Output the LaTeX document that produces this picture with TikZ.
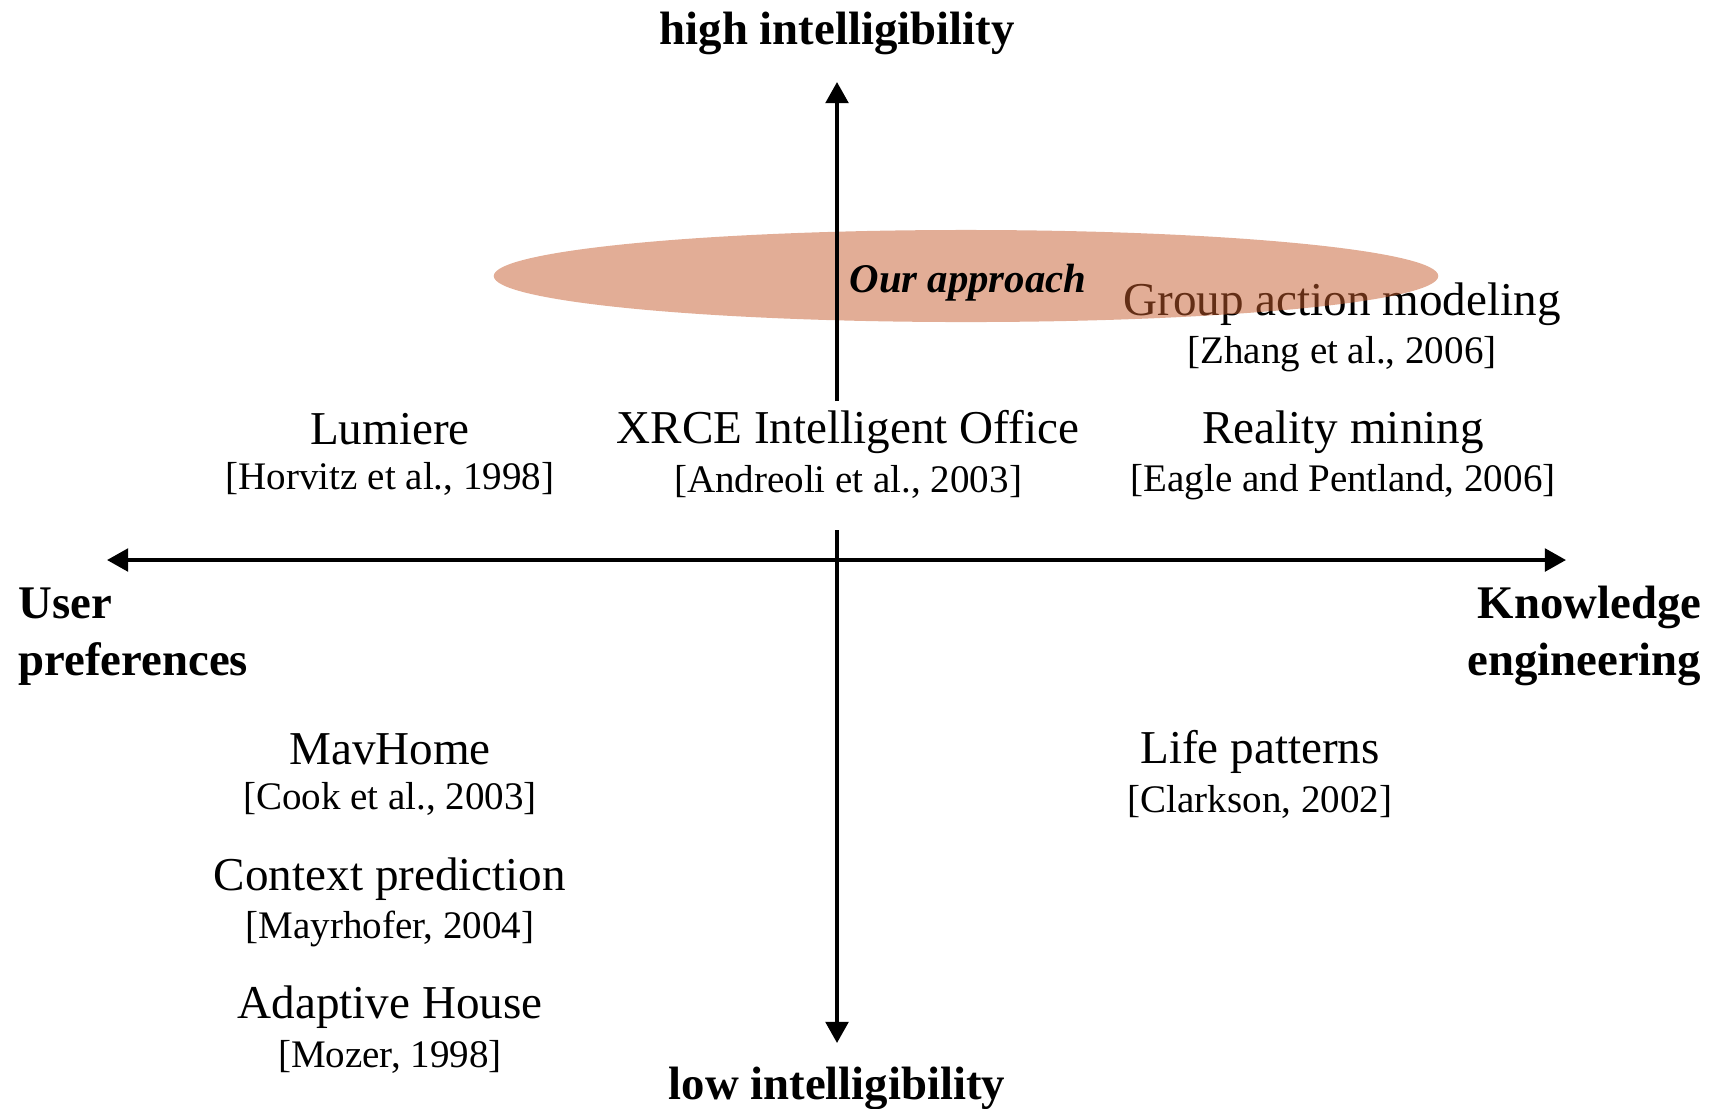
\documentclass[tikz,border=0pt]{standalone}
\usepackage{fontspec}
\setmainfont{Liberation Serif}
\usepackage{tikz}
\usetikzlibrary{arrows.meta,positioning,shapes.geometric}
\usepackage{xcolor}
\definecolor{qbrown}{RGB}{198,92,45}
\tikzstyle{axis} = [line width=1.1pt,->,>={Triangle[length=6pt,width=6.4pt]}]
\tikzstyle{work} = [font=\fontsize{13.4}{16}\selectfont, inner sep=0pt]
\tikzstyle{cite} = [font=\fontsize{11.1}{13}\selectfont, inner sep=0pt]
\tikzstyle{pole} = [font=\bfseries\fontsize{13.3}{16.2}\selectfont, inner sep=0pt]
\tikzstyle{hatchbox} = [ellipse, inner sep=0pt, fill=qbrown, fill opacity=0.5]

\begin{document}
\begin{tikzpicture}[x=0.01cm, y=-0.01cm]
\useasboundingbox (0,0) rectangle (1713,1108);

% Axis ends
\coordinate (vtop) at (837,82);
\coordinate (vmidA) at (837,401);
\coordinate (vmidB) at (837,530);
\coordinate (vbot) at (837,1043);
\coordinate (hleft) at (107,560);
\coordinate (hright) at (1566,560);

% Axis labels
\node[pole] (high) at (837,33) {high intelligibility};
\node[pole] (low) at (837,1088) {low intelligibility};
\node[pole, anchor=west, align=left] (user) at (18,637) {User\\preferences};
\node[pole, anchor=east, align=right] (know) at (1702,636) {Knowledge\\engineering};

% Upper quadrants
\node[work] (group) at (1342,304) {Group action modeling};
\node[cite, below of=group, node distance=0.5cm] (zhang) {[Zhang et al., 2006]};
\node[work] (lum) at (390,429) {Lumiere};
\node[cite, below of=lum, node distance=0.5cm] (horv) {[Horvitz et al., 1998]};
\node[work] (xrce) at (848,432) {XRCE Intelligent Office};
\node[cite, below of=xrce, node distance=0.5cm] (andr) {[Andreoli et al., 2003]};
\node[work] (real) at (1343,432) {Reality mining};
\node[cite, below of=real, node distance=0.5cm] (eagle) {[Eagle and Pentland, 2006]};

% Lower quadrants
\node[work] (mav) at (390,749) {MavHome};
\node[cite, below of=mav, node distance=0.5cm] (cook) {[Cook et al., 2003]};
\node[work] (ctx) at (390,879) {Context prediction};
\node[cite, below of=ctx, node distance=0.5cm] (mayr) {[Mayrhofer, 2004]};
\node[work] (adapt) at (390,1007) {Adaptive House};
\node[cite, below of=adapt, node distance=0.5cm] (mozer) {[Mozer, 1998]};
\node[work] (life) at (1260,752) {Life patterns};
\node[cite, below of=life, node distance=0.5cm] (clark) {[Clarkson, 2002]};

% Our approach
\node[hatchbox, minimum width=9.44cm, minimum height=0.92cm] (ours) at (966,276) {};
\node[font=\bfseries\itshape\fontsize{11.6}{14}\selectfont, inner sep=0pt] (ourtxt) at (968,283) {Our approach};

% Axes
\draw[axis] (vmidA) -- (vtop);
\draw[axis] (vmidB) -- (vbot);
\draw[axis, <->] (hleft) -- (hright);
\end{tikzpicture}
\end{document}
